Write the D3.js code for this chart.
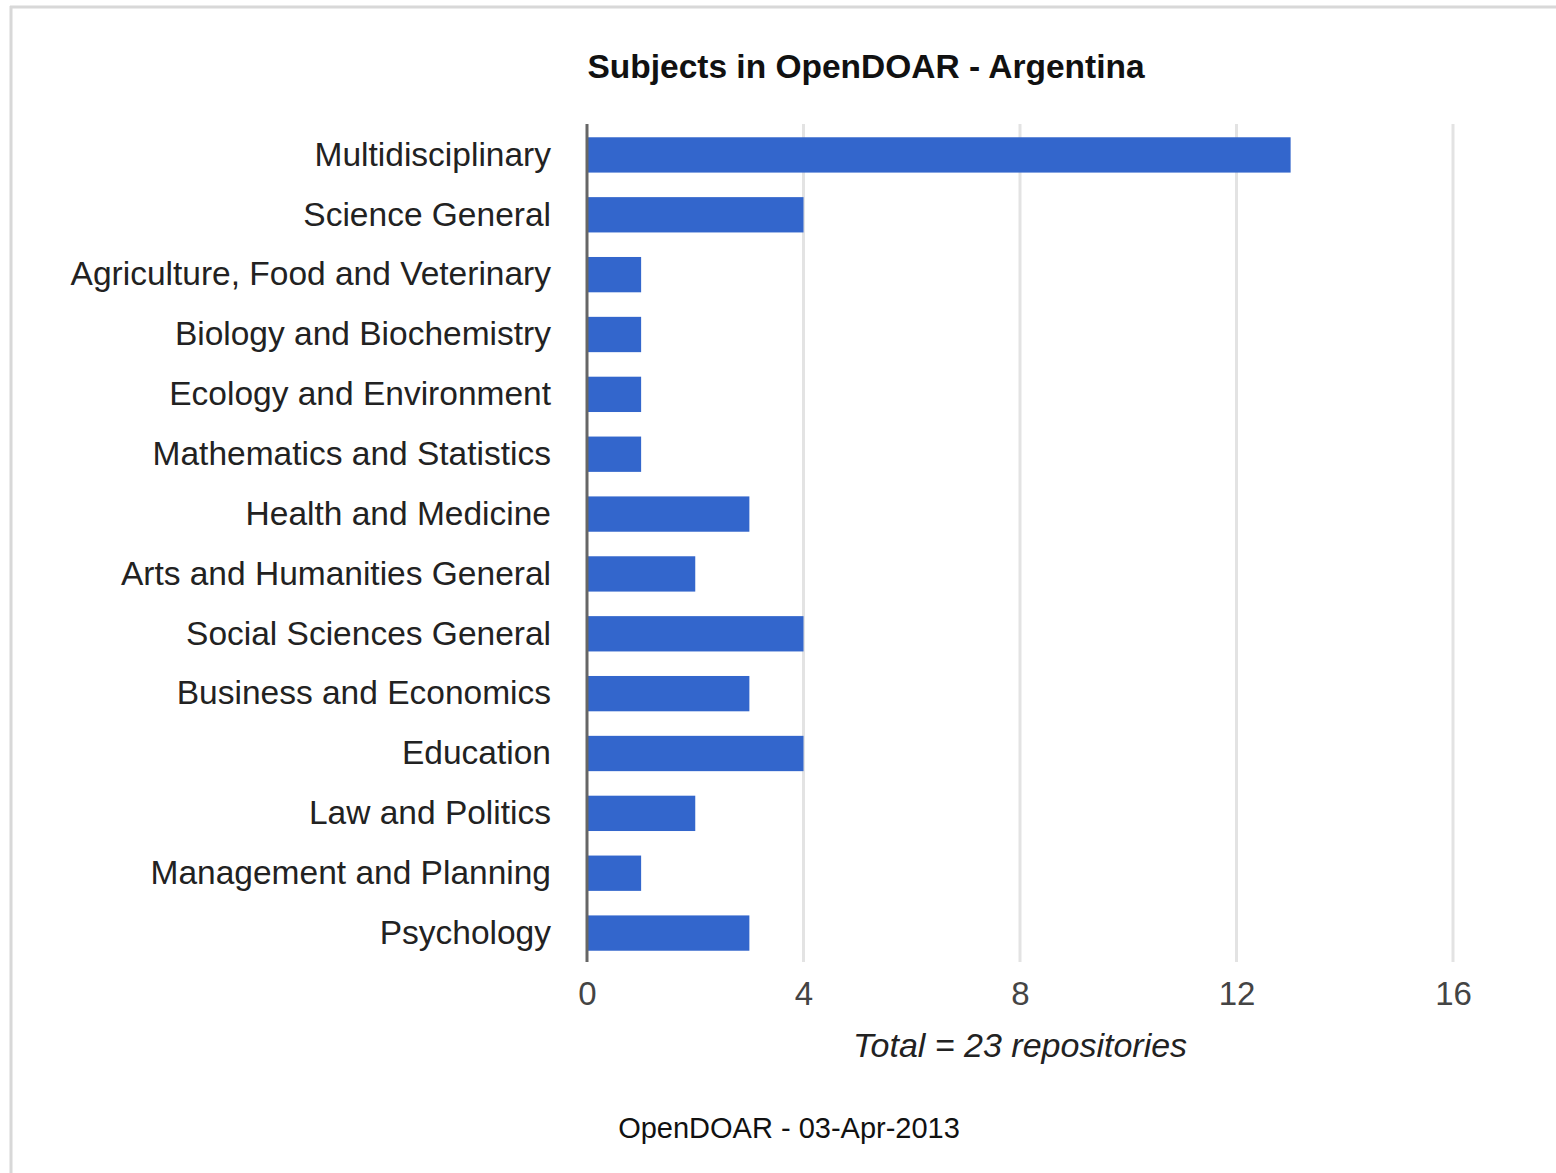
<!DOCTYPE html>
<html>
<head>
<meta charset="utf-8">
<style>
    body { margin: 0; background: #fff; }
    svg { display: block; font-family: "Liberation Sans", Arial, sans-serif; }
    .y .domain, .x .domain { display: none; }
    .y .tick line, .x .tick line { display: none; }
    .y .tick text { font-size: 33.5px; fill: #222; }
    .x .tick text { font-size: 33px; fill: #444; }
</style>
</head>
<body>
<svg width="1556" height="1173"></svg>
<script src="https://d3js.org/d3.v7.min.js"></script>
<script>
    // data
    let subjects = ["Multidisciplinary", "Science General", "Agriculture, Food and Veterinary",
        "Biology and Biochemistry", "Ecology and Environment", "Mathematics and Statistics",
        "Health and Medicine", "Arts and Humanities General", "Social Sciences General",
        "Business and Economics", "Education", "Law and Politics",
        "Management and Planning", "Psychology"];
    let counts = [13, 4, 1, 1, 1, 1, 3, 2, 4, 3, 4, 2, 1, 3];
    let xTicks = [0, 4, 8, 12, 16];

    let width = 1556, height = 1173;
    let margin = { top: 124, right: 103, bottom: 211, left: 587 };

    let svg = d3.select("svg");

    // frame (top and left edges only visible)
    svg.append("line")
        .attr("x1", 10).attr("x2", width).attr("y1", 7).attr("y2", 7)
        .style("stroke", "#d8d8d8").style("stroke-width", 3);
    svg.append("line")
        .attr("x1", 11).attr("x2", 11).attr("y1", 6).attr("y2", height)
        .style("stroke", "#d8d8d8").style("stroke-width", 3);

    let x = d3.scaleLinear()
        .domain([0, 16])
        .range([margin.left, width - margin.right]);

    let y = d3.scaleBand()
        .domain(subjects)
        .range([margin.top, height - margin.bottom])
        .paddingInner(0.41)
        .paddingOuter(0.205);

    // gridlines
    svg.append("g")
        .selectAll("line")
        .data(xTicks.slice(1))
        .join("line")
        .attr("x1", d => x(d)).attr("x2", d => x(d))
        .attr("y1", margin.top).attr("y2", height - margin.bottom)
        .style("stroke", "#e3e3e3")
        .style("stroke-width", 3);

    svg.append("g")
        .attr("class", "x axis")
        .attr("transform", `translate(0,${height - margin.bottom})`)
        .call(d3.axisBottom(x).tickValues(xTicks).tickSize(0).tickPadding(20));

    svg.append("g")
        .attr("class", "y axis")
        .attr("transform", `translate(${margin.left},1)`)
        .call(d3.axisLeft(y).tickSize(0).tickPadding(36));

    svg.append("g")
        .selectAll("rect")
        .data(counts)
        .join("rect")
        .attr("x", x(0))
        .attr("y", (d, i) => y(subjects[i]) + 1)
        .attr("width", d => x(d) - x(0))
        .attr("height", y.bandwidth())
        .style("fill", "#3366cc");

    // zero baseline
    svg.append("line")
        .attr("x1", x(0)).attr("x2", x(0))
        .attr("y1", margin.top).attr("y2", height - margin.bottom)
        .style("stroke", "#666")
        .style("stroke-width", 3);

    svg.append("text")
        .attr("x", 866).attr("y", 78)
        .attr("text-anchor", "middle")
        .style("font-size", "33.5px")
        .style("font-weight", "bold")
        .style("fill", "#111")
        .text("Subjects in OpenDOAR - Argentina");

    svg.append("text")
        .attr("x", 1020).attr("y", 1057)
        .attr("text-anchor", "middle")
        .style("font-size", "34px")
        .style("font-style", "italic")
        .style("fill", "#222")
        .text("Total = 23 repositories");

    svg.append("text")
        .attr("x", 789).attr("y", 1138)
        .attr("text-anchor", "middle")
        .style("font-size", "29px")
        .style("fill", "#111")
        .text("OpenDOAR - 03-Apr-2013");
</script>
</body>
</html>
